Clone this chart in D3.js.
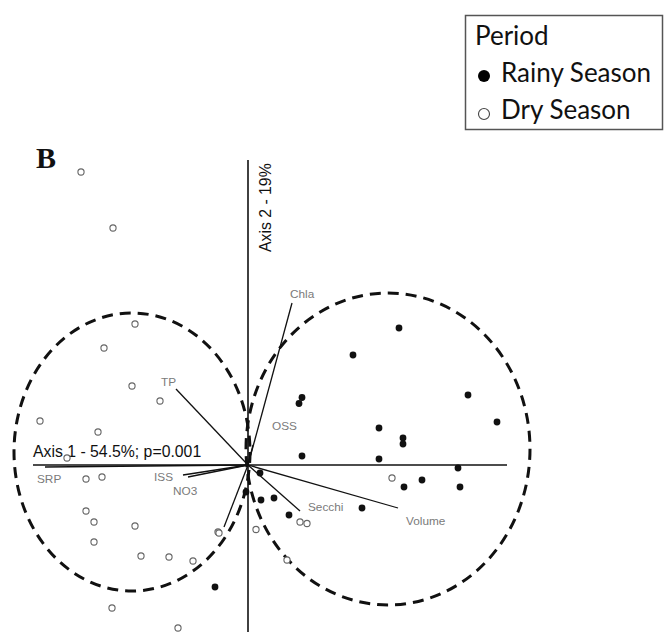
<!DOCTYPE html>
<html>
<head>
<meta charset="utf-8">
<script src="https://cdn.jsdelivr.net/npm/d3@7"></script>
<style>
  body { margin: 0; background: #fff; }
  svg { display: block; }
</style>
</head>
<body>
<div id="vis"></div>
<script>
// PCA biplot scores (axis units)
const DRY_X = [-1.67, -1.35, -1.13, -1.44, -1.16, -0.88, -2.08, -1.50, -1.81, -1.62, -1.46, -1.62, -1.54, -1.13,
               -1.54, -1.07, -0.79, -0.55, -0.30, -0.29, -1.36, -0.70, 0.08, 0.39, 0.52, 0.59, 1.44];
const DRY_Y = [2.93, 2.37, 1.41, 1.17, 0.79, 0.64, 0.44, 0.33, 0.07, -0.14, -0.12, -0.46, -0.57, -0.61,
               -0.77, -0.91, -0.92, -0.96, -0.67, -0.68, -1.43, -1.63, -0.645, -0.95, -0.57, -0.585, -0.13];

const RAINY_X = [-0.33, 1.51, 1.05, 0.54, 0.51, 1.31, 1.55, 1.55, 0.54, 1.31, 2.10, 1.74, 1.56, 2.12,
                 1.14, 0.41, 0.26, 0.13, 0.12, 2.20, 2.49, -0.02];
const RAINY_Y = [-1.22, 1.37, 1.10, 0.675, 0.615, 0.37, 0.27, 0.21, 0.09, 0.06, -0.03, -0.15, -0.22, -0.22,
                 -0.43, -0.50, -0.33, -0.35, -0.08, 0.70, 0.43, -0.27];

const VECTOR_NAMES = ["Chla", "TP", "OSS", "SRP", "ISS", "NO3", "Secchi", "Volume", ""];
const VECTOR_X = [0.44, -0.72, 0.05, -2.03, -0.65, -0.60, 0.52, 1.50, -0.24];
const VECTOR_Y = [1.62, 0.76, 0.20, -0.02, -0.10, -0.12, -0.46, -0.43, -0.62];

// group envelopes: centre and radii in axis units
const GROUP_CX = [-1.16, 1.40];
const GROUP_CY = [0.13, 0.16];
const GROUP_RX = [1.18, 1.42];
const GROUP_RY = [1.39, 1.56];

const AXIS_LABELS = ["Axis 1 - 54.5%; p=0.001", "Axis 2 - 19%"];
const LEGEND_TITLE = "Period";
const LEGEND_LABELS = ["Rainy Season", "Dry Season"];
const PANEL_LABEL = "B";

const WIDTH = 664;
const HEIGHT = 632;
const SANS = "'Liberation Sans', Arial, sans-serif";

const FRAME = d3.select("#vis")
                .append("svg")
                  .attr("width", WIDTH)
                  .attr("height", HEIGHT);

const X_SCALE = d3.scaleLinear().domain([-2.48, 4.16]).range([0, WIDTH]);
const Y_SCALE = d3.scaleLinear().domain([4.65, -1.67]).range([0, HEIGHT]);

// label nudges in px: [dx, dy, anchor]
const LABEL_NUDGE = {
  "Chla": [-2, -5, "start"],
  "TP": [0, -3, "end"],
  "OSS": [19, -15, "start"],
  "SRP": [-8, 16, "start"],
  "ISS": [-10, 6, "end"],
  "NO3": [-15, 18, "start"],
  "Secchi": [8, 0, "start"],
  "Volume": [8, 17, "start"]
};

// envelopes
FRAME.selectAll(".group")
  .data(GROUP_CX)
  .enter()
  .append("ellipse")
    .attr("cx", (d) => X_SCALE(d))
    .attr("cy", (d, i) => Y_SCALE(GROUP_CY[i]))
    .attr("rx", (d, i) => X_SCALE(GROUP_RX[i]) - X_SCALE(0))
    .attr("ry", (d, i) => Y_SCALE(0) - Y_SCALE(GROUP_RY[i]))
    .attr("fill", "none")
    .attr("stroke", "#111")
    .attr("stroke-width", 3)
    .attr("stroke-dasharray", "11,7");

// axes through the origin
FRAME.append("line")
  .attr("x1", X_SCALE(-2.15)).attr("x2", X_SCALE(2.59))
  .attr("y1", Y_SCALE(0)).attr("y2", Y_SCALE(0))
  .attr("stroke", "#111").attr("stroke-width", 1.6);

FRAME.append("line")
  .attr("x1", X_SCALE(0)).attr("x2", X_SCALE(0))
  .attr("y1", Y_SCALE(3.05)).attr("y2", Y_SCALE(-1.67))
  .attr("stroke", "#111").attr("stroke-width", 1.6);

FRAME.append("text")
  .attr("x", X_SCALE(-2.15))
  .attr("y", Y_SCALE(0) - 8)
  .style("font-family", SANS)
  .style("font-size", "15.8px")
  .attr("fill", "#111")
  .text(AXIS_LABELS[0]);

FRAME.append("text")
  .attr("transform", `translate(${X_SCALE(0) + 23},${Y_SCALE(2.13)}) rotate(-90)`)
  .style("font-family", SANS)
  .style("font-size", "15.8px")
  .attr("fill", "#111")
  .text(AXIS_LABELS[1]);

// environmental vectors
FRAME.selectAll(".vec")
  .data(VECTOR_NAMES)
  .enter()
  .append("line")
    .attr("x1", X_SCALE(0))
    .attr("y1", Y_SCALE(0))
    .attr("x2", (d, i) => X_SCALE(VECTOR_X[i]))
    .attr("y2", (d, i) => Y_SCALE(VECTOR_Y[i]))
    .attr("stroke", "#111")
    .attr("stroke-width", 1.3);

FRAME.selectAll(".vlabel")
  .data(VECTOR_NAMES.filter((d) => d !== ""))
  .enter()
  .append("text")
    .attr("x", (d) => X_SCALE(VECTOR_X[VECTOR_NAMES.indexOf(d)]) + LABEL_NUDGE[d][0])
    .attr("y", (d) => Y_SCALE(VECTOR_Y[VECTOR_NAMES.indexOf(d)]) + LABEL_NUDGE[d][1])
    .attr("text-anchor", (d) => LABEL_NUDGE[d][2])
    .style("font-family", SANS)
    .style("font-size", "11.8px")
    .attr("fill", "#7a7a7a")
    .text((d) => d);

// sites
FRAME.selectAll(".dry")
  .data(DRY_X)
  .enter()
  .append("circle")
    .attr("cx", (d) => X_SCALE(d))
    .attr("cy", (d, i) => Y_SCALE(DRY_Y[i]))
    .attr("r", 3.1)
    .attr("fill", "#fff")
    .attr("stroke", "#666")
    .attr("stroke-width", 1.1);

FRAME.selectAll(".rainy")
  .data(RAINY_X)
  .enter()
  .append("circle")
    .attr("cx", (d) => X_SCALE(d))
    .attr("cy", (d, i) => Y_SCALE(RAINY_Y[i]))
    .attr("r", 3.4)
    .attr("fill", "#111");

// panel letter
FRAME.append("text")
  .attr("x", 36)
  .attr("y", 168)
  .style("font-family", "'Liberation Serif', 'Times New Roman', serif")
  .style("font-weight", "bold")
  .style("font-size", "30px")
  .attr("fill", "#111")
  .text(PANEL_LABEL);

// legend
const LEGEND = FRAME.append("g");

LEGEND.append("rect")
  .attr("x", 465.5).attr("y", 15.5)
  .attr("width", 197).attr("height", 114)
  .attr("fill", "#fff")
  .attr("stroke", "#555")
  .attr("stroke-width", 1.5);

LEGEND.append("text")
  .attr("x", 475).attr("y", 45)
  .style("font-family", "Lato, 'Open Sans', sans-serif")
  .style("font-size", "26px")
  .attr("fill", "#111")
  .text(LEGEND_TITLE);

LEGEND.selectAll(".ltext")
  .data(LEGEND_LABELS)
  .enter()
  .append("text")
    .attr("x", 501)
    .attr("y", (d, i) => 82 + i * 36.5)
    .style("font-family", "Lato, 'Open Sans', sans-serif")
    .style("font-size", "26px")
    .attr("fill", "#111")
    .text((d) => d);

LEGEND.selectAll(".lsym")
  .data(LEGEND_LABELS)
  .enter()
  .append("circle")
    .attr("cx", 484)
    .attr("cy", (d, i) => 76 + i * 38)
    .attr("r", (d, i) => i === 0 ? 6 : 5.5)
    .attr("fill", (d, i) => i === 0 ? "#000" : "#fff")
    .attr("stroke", (d, i) => i === 0 ? "none" : "#444")
    .attr("stroke-width", 1.1);
</script>
</body>
</html>
